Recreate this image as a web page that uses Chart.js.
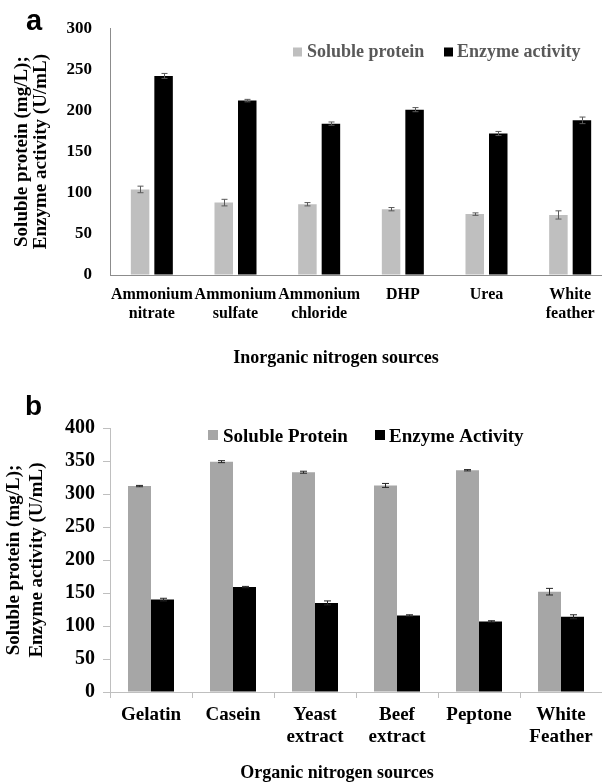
<!DOCTYPE html>
<html><head><meta charset="utf-8">
<script src="https://cdn.jsdelivr.net/npm/chart.js@4/dist/chart.umd.min.js"></script>
<style>
html,body{margin:0;padding:0;background:#fff;overflow:hidden;width:602px;height:784px;}
#wa{position:absolute;left:0;top:0;width:612px;height:385px;}
#wb{position:absolute;left:0;top:380px;width:602px;height:404px;}
</style></head><body>
<div id="wa"><canvas id="ca"></canvas></div>
<div id="wb"><canvas id="cb"></canvas></div>
<script>
// ---- Panel a data ----
const categoriesA = [['Ammonium','nitrate'],['Ammonium','sulfate'],['Ammonium','chloride'],'DHP','Urea',['White','feather']];
const seriesNamesA = ['Soluble protein','Enzyme activity'];
const proteinA = [104, 88, 86, 80, 74, 73];
const proteinErrA = [4, 4, 2, 2, 1.5, 5];
const enzymeA = [242, 212, 184, 201, 172, 188];
const enzymeErrA = [3, 1.5, 2, 2.5, 2.5, 4];
const yTicksA = [0, 50, 100, 150, 200, 250, 300];
const xTitleA = 'Inorganic nitrogen sources';

// ---- Panel b data ----
const categoriesB = ['Gelatin','Casein',['Yeast','extract'],['Beef','extract'],'Peptone',['White','Feather']];
const seriesNamesB = ['Soluble Protein','Enzyme Activity'];
const proteinB = [312, 349, 333, 313, 336, 152];
const proteinErrB = [1, 1.5, 1.5, 3, 1, 5];
const enzymeB = [140, 159, 135, 116, 107, 114];
const enzymeErrB = [2, 1, 3, 1, 1, 3];
const yTicksB = [0, 50, 100, 150, 200, 250, 300, 350, 400];
const xTitleB = 'Organic nitrogen sources';

const yTitle = ['Soluble protein (mg/L);','Enzyme activity (U/mL)'];
const SERIF = '"Liberation Serif","Times New Roman",serif';
const SANS = '"Liberation Sans",Arial,sans-serif';

const errorBars = {
  id: 'errorBars',
  afterDatasetsDraw(chart, args, opts) {
    const ctx = chart.ctx, ys = chart.scales.y;
    ctx.save();
    ctx.strokeStyle = opts.color; ctx.lineWidth = 1;
    chart.data.datasets.forEach((ds, i) => {
      const meta = chart.getDatasetMeta(i);
      meta.data.forEach((el, j) => {
        const v = ds.data[j], e = ds.errors[j];
        const x = Math.round(el.x) + 0.5;
        const t = ys.getPixelForValue(v + e), b = ys.getPixelForValue(v - e);
        const w = opts.cap / 2;
        ctx.beginPath();
        ctx.moveTo(x, t); ctx.lineTo(x, b);
        ctx.moveTo(x - w, t); ctx.lineTo(x + w, t);
        ctx.moveTo(x - w, b); ctx.lineTo(x + w, b);
        ctx.stroke();
      });
    });
    ctx.restore();
  }
};

const deco = {
  id: 'deco',
  afterDraw(chart, args, o) {
    const ctx = chart.ctx;
    ctx.save();
    ctx.textBaseline = 'alphabetic';
    ctx.fillStyle = '#000';
    ctx.font = 'bold ' + o.letterSize + 'px ' + SANS;
    ctx.textAlign = 'left';
    ctx.fillText(o.letter, o.letterX, o.letterY);
    ctx.font = 'bold ' + o.titleSize + 'px ' + SERIF;
    ctx.textAlign = 'center';
    ctx.fillText(o.title, o.titleX, o.titleY);
    ctx.textAlign = 'left';
    ctx.font = 'bold ' + o.legSize + 'px ' + SERIF;
    chart.data.datasets.forEach((ds, i) => {
      const it = o.legend[i];
      ctx.fillStyle = ds.backgroundColor;
      ctx.fillRect(it.bx, o.legBoxY, o.legBox, o.legBox);
      ctx.fillStyle = o.legColor;
      ctx.fillText(ds.label, it.tx, o.legY);
    });
    ctx.restore();
  }
};

function makeChart(id, cats, names, p, pe, en, ee, ticks, cfg) {
  return new Chart(document.getElementById(id), {
    type: 'bar',
    data: {
      labels: cats,
      datasets: [
        {label: names[0], data: p, errors: pe, backgroundColor: cfg.gray,
         barPercentage: cfg.barPct, categoryPercentage: cfg.catPct},
        {label: names[1], data: en, errors: ee, backgroundColor: '#000000',
         barPercentage: cfg.barPct, categoryPercentage: cfg.catPct}
      ]
    },
    options: {
      responsive: true, maintainAspectRatio: false, animation: false,
      layout: {padding: {top: cfg.top, left: 0, right: 0, bottom: 0}},
      plugins: {
        legend: {display: false}, tooltip: {enabled: false},
        errorBars: {color: cfg.errColor, cap: cfg.cap},
        deco: cfg.deco
      },
      scales: {
        x: {
          offset: true,
          grid: {display: true, drawOnChartArea: false, drawTicks: cfg.xTicks, tickLength: cfg.xTickLen, color: cfg.axisColor, offset: true},
          border: {display: true, color: cfg.axisColor, width: 1},
          ticks: {color: '#000', padding: cfg.xPad, maxRotation: 0, autoSkip: false,
                  font: {family: SERIF, size: cfg.xSize, weight: 'bold', lineHeight: cfg.xLH}},
          afterFit(s) { s.height = cfg.xHeight; }
        },
        y: {
          min: ticks[0], max: ticks[ticks.length - 1],
          afterBuildTicks(s) { s.ticks = ticks.map(v => ({value: v})); },
          grid: {display: true, drawOnChartArea: false, drawTicks: cfg.yTicks, tickLength: cfg.yTickLen, color: cfg.axisColor},
          border: {display: true, color: cfg.axisColor, width: 1},
          ticks: {color: '#000', padding: cfg.yPad,
                  font: {family: SERIF, size: cfg.ySize, weight: 'bold'}},
          title: {display: true, text: yTitle, color: '#000',
                  font: {family: SERIF, size: 19, weight: 'bold', lineHeight: cfg.tLH},
                  padding: {top: cfg.tPad, bottom: 0}},
          afterFit(s) { s.width = 110; }
        }
      }
    },
    plugins: [errorBars, deco]
  });
}

makeChart('ca', categoriesA, seriesNamesA, proteinA, proteinErrA, enzymeA, enzymeErrA, yTicksA, {
  gray: '#bfbfbf', barPct: 0.787, catPct: 0.562, top: 27, xHeight: 110,
  errColor: '#595959', cap: 6, axisColor: '#8c8c8c',
  xTicks: false, xTickLen: 0, xPad: 10, xSize: 16, xLH: 1.2,
  yTicks: false, yTickLen: 0, yPad: 18, ySize: 17, tLH: 1.0, tPad: 13,
  deco: {letter: 'a', letterX: 26, letterY: 30, letterSize: 29,
         title: xTitleA, titleX: 336, titleY: 363, titleSize: 18,
         legSize: 18, legColor: '#595959', legY: 57, legBoxY: 47.5, legBox: 9,
         legend: [{bx: 293, tx: 307}, {bx: 444, tx: 457}]}
});

makeChart('cb', categoriesB, seriesNamesB, proteinB, proteinErrB, enzymeB, enzymeErrB, yTicksB, {
  gray: '#a6a6a6', barPct: 1.0, catPct: 0.561, top: 48, xHeight: 92,
  errColor: '#262626', cap: 7, axisColor: '#bfbfbf',
  xTicks: true, xTickLen: 6, xPad: 6, xSize: 19, xLH: 1.15,
  yTicks: true, yTickLen: 7, yPad: 8, ySize: 20, tLH: 1.2, tPad: 3,
  deco: {letter: 'b', letterX: 25, letterY: 35, letterSize: 28,
         title: xTitleB, titleX: 337, titleY: 398, titleSize: 18,
         legSize: 19, legColor: '#000', legY: 61.5, legBoxY: 50, legBox: 10,
         legend: [{bx: 208, tx: 223}, {bx: 375, tx: 389}]}
});
</script>
</body></html>
